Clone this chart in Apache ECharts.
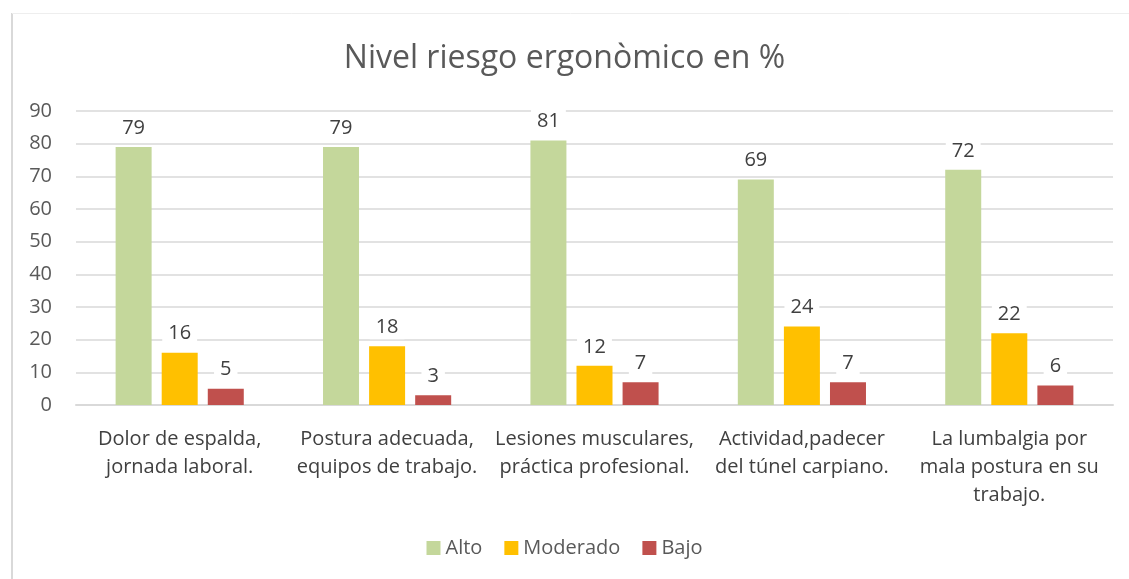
<!DOCTYPE html>
<html>
<head>
<meta charset="utf-8">
<script src="https://cdn.jsdelivr.net/npm/echarts@6/dist/echarts.min.js"></script>
<style>
  html, body { margin: 0; padding: 0; background: #fff; }
  #chart { width: 1129px; height: 579px; }
</style>
</head>
<body>
<div id="chart"></div>
<script>
// categorías y valores
var categorias = [
  "Dolor de espalda,\njornada laboral.",
  "Postura adecuada,\nequipos de trabajo.",
  "Lesiones musculares,\npráctica profesional.",
  "Actividad,padecer\ndel túnel carpiano.",
  "La lumbalgia por\nmala postura en su\ntrabajo."
];
var alto = [79, 79, 81, 69, 72];
var moderado = [16, 18, 12, 24, 22];
var bajo = [5, 3, 7, 7, 6];

var fuente = "'Open Sans', 'Noto Sans', sans-serif";

var etiqueta = {
  show: true,
  position: "top",
  distance: 7,
  color: "#404040",
  fontSize: 20,
  fontFamily: fuente,
  backgroundColor: "#fff",
  padding: [2, 6]
};

var chart = echarts.init(document.getElementById("chart"));
chart.setOption({
  backgroundColor: "#fff",
  animation: false,
  title: {
    text: "Nivel riesgo ergonòmico en %",
    left: "center",
    top: 38,
    textStyle: {
      color: "#595959",
      fontSize: 32,
      fontWeight: "normal",
      fontFamily: fuente
    }
  },
  graphic: [
    { type: "line", shape: { x1: 12, y1: 13, x2: 12, y2: 579 }, style: { stroke: "#d9d9d9", lineWidth: 2 } },
    { type: "line", shape: { x1: 12, y1: 13.5, x2: 1129, y2: 13.5 }, style: { stroke: "#eeeeee", lineWidth: 1 } }
  ],
  legend: {
    bottom: 16,
    left: "center",
    itemWidth: 14,
    itemHeight: 14,
    itemGap: 22,
    icon: "rect",
    textStyle: { color: "#595959", fontSize: 20, fontFamily: fuente },
    data: ["Alto", "Moderado", "Bajo"]
  },
  grid: {
    left: 76,
    right: 16,
    top: 111,
    bottom: 174
  },
  xAxis: {
    type: "category",
    data: categorias,
    axisTick: { show: false },
    axisLine: { lineStyle: { color: "#d9d9d9", width: 2 } },
    axisLabel: {
      interval: 0,
      margin: 20,
      color: "#404040",
      fontSize: 20,
      lineHeight: 28,
      fontFamily: fuente
    }
  },
  yAxis: {
    type: "value",
    min: 0,
    max: 90,
    interval: 10,
    axisLine: { show: false },
    axisTick: { show: false },
    axisLabel: { margin: 24, color: "#595959", fontSize: 20, fontFamily: fuente },
    splitLine: { lineStyle: { color: "#d9d9d9", width: 1.5 } }
  },
  series: [
    { name: "Alto", type: "bar", data: alto, barWidth: 36, barGap: "28%", itemStyle: { color: "#C4D79B" }, label: etiqueta },
    { name: "Moderado", type: "bar", data: moderado, barWidth: 36, barGap: "28%", itemStyle: { color: "#FFC000" }, label: etiqueta },
    { name: "Bajo", type: "bar", data: bajo, barWidth: 36, barGap: "28%", itemStyle: { color: "#C0504D" }, label: etiqueta }
  ]
});
</script>
</body>
</html>
